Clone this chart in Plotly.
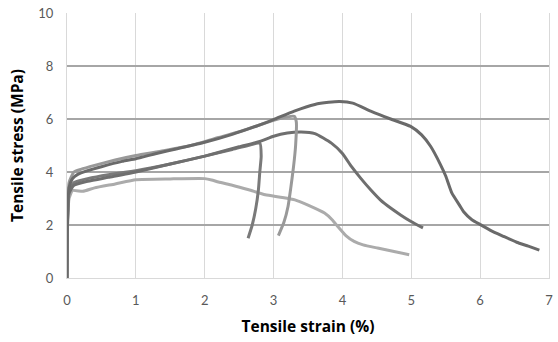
import plotly.graph_objects as go

# Series A (darkest, longest)
a_x = [0, 0.01, 0.03, 0.08, 0.15, 0.3, 0.5, 0.8, 1.0, 1.3, 1.6, 2.0, 2.4, 2.8, 3.0, 3.3, 3.6, 3.8, 3.96,
       4.15, 4.41, 4.7, 4.99, 5.15, 5.28, 5.42, 5.5, 5.59, 5.7, 5.76, 5.88, 6.0, 6.15, 6.34, 6.53, 6.7, 6.86]
a_y = [0, 2.5, 3.4, 3.75, 3.9, 4.05, 4.2, 4.4, 4.5, 4.7, 4.88, 5.12, 5.42, 5.78, 5.98, 6.3, 6.55, 6.63, 6.66,
       6.6, 6.3, 6.0, 5.72, 5.4, 4.97, 4.3, 3.85, 3.2, 2.75, 2.5, 2.2, 2.02, 1.8, 1.57, 1.35, 1.2, 1.05]

# Series B (dark, peak 5.5)
b_x = [0, 0.01, 0.03, 0.1, 0.3, 0.6, 1.0, 1.5, 2.0, 2.5, 2.8, 3.0, 3.2, 3.4, 3.6, 3.84, 4.0, 4.13, 4.27,
       4.41, 4.55, 4.7, 4.85, 4.99, 5.17]
b_y = [0, 2.3, 3.2, 3.5, 3.65, 3.8, 4.0, 4.3, 4.6, 4.95, 5.15, 5.35, 5.47, 5.51, 5.45, 5.09, 4.7, 4.21, 3.75,
       3.33, 2.95, 2.64, 2.37, 2.14, 1.89]

# Series C (dark, breaks at 2.8)
c_x = [0, 0.01, 0.03, 0.1, 0.3, 0.6, 1.0, 1.5, 2.0, 2.4, 2.7, 2.8, 2.82, 2.8, 2.78, 2.74, 2.69, 2.63]
c_y = [0, 2.4, 3.3, 3.6, 3.75, 3.9, 4.05, 4.3, 4.6, 4.85, 5.05, 5.1, 4.6, 4.0, 3.33, 2.6, 2.0, 1.5]

# Series D (medium grey, breaks at 3.3)
d_x = [0, 0.01, 0.03, 0.1, 0.2, 0.4, 0.7, 1.0, 1.4, 1.8, 2.2, 2.6, 3.0, 3.2, 3.3, 3.33, 3.32,
       3.29, 3.25, 3.21, 3.15, 3.07]
d_y = [0, 2.6, 3.6, 4.0, 4.1, 4.25, 4.45, 4.62, 4.8, 5.0, 5.3, 5.6, 5.95, 6.08, 6.1, 5.9, 5.0,
       4.2, 3.4, 2.7, 2.1, 1.6]

# Series E (light grey, plateau 3.7)
e_x = [0, 0.01, 0.03, 0.08, 0.23, 0.4, 0.7, 1.0, 1.5, 2.0, 2.1, 2.2, 2.4, 2.64, 2.88, 3.1, 3.31, 3.5,
       3.74, 3.85, 3.93, 4.05, 4.17, 4.3, 4.51, 4.75, 4.97]
e_y = [0, 2.2, 3.0, 3.3, 3.27, 3.4, 3.55, 3.71, 3.74, 3.75, 3.7, 3.62, 3.5, 3.33, 3.14, 3.05, 2.95, 2.75,
       2.45, 2.2, 1.95, 1.6, 1.38, 1.25, 1.13, 1.0, 0.88]

x_ticks = [0, 1, 2, 3, 4, 5, 6, 7]
y_ticks = [0, 2, 4, 6, 8, 10]

series = [
    (e_x, e_y, "#ababab"),
    (c_x, c_y, "#7a7a7a"),
    (b_x, b_y, "#6f6f6f"),
    (d_x, d_y, "#999999"),
    (a_x, a_y, "#6a6a6a"),
]

fig = go.Figure()
for xs, ys, col in series:
    fig.add_trace(go.Scatter(x=xs, y=ys, mode="lines",
                             line=dict(color=col, width=3, shape="spline", smoothing=0.5),
                             showlegend=False, hoverinfo="skip"))

tick_font = dict(family="Lato, Open Sans, sans-serif", size=13, color="#595959")
title_font = dict(family="Open Sans, Lato, sans-serif", size=15.5, color="#000000")
fig.update_layout(
    width=558, height=342,
    margin=dict(l=67, r=5, t=13, b=64),
    paper_bgcolor="white", plot_bgcolor="white",
)
fig.update_xaxes(
    range=[0, 7], tickvals=x_ticks, ticktext=[str(v) for v in x_ticks],
    showgrid=True, gridcolor="#d9d9d9", gridwidth=1,
    showline=True, linecolor="#d9d9d9", linewidth=1, mirror=False,
    zeroline=False, ticks="outside", ticklen=10, tickcolor="rgba(0,0,0,0)",
    tickfont=tick_font,
    title=dict(text="<b>Tensile strain (%)</b>", font=title_font, standoff=14),
)
fig.update_yaxes(
    range=[0, 10], tickvals=y_ticks, ticktext=[str(v) for v in y_ticks],
    showgrid=True, gridcolor="#a6a6a6", gridwidth=1.5,
    showline=True, linecolor="#d9d9d9", linewidth=1, mirror=True,
    zeroline=False, ticks="outside", ticklen=10, tickcolor="rgba(0,0,0,0)",
    tickfont=tick_font,
    title=dict(text="<b>Tensile stress (MPa)</b>", font=title_font, standoff=10),
)

fig.write_html("out.html")
